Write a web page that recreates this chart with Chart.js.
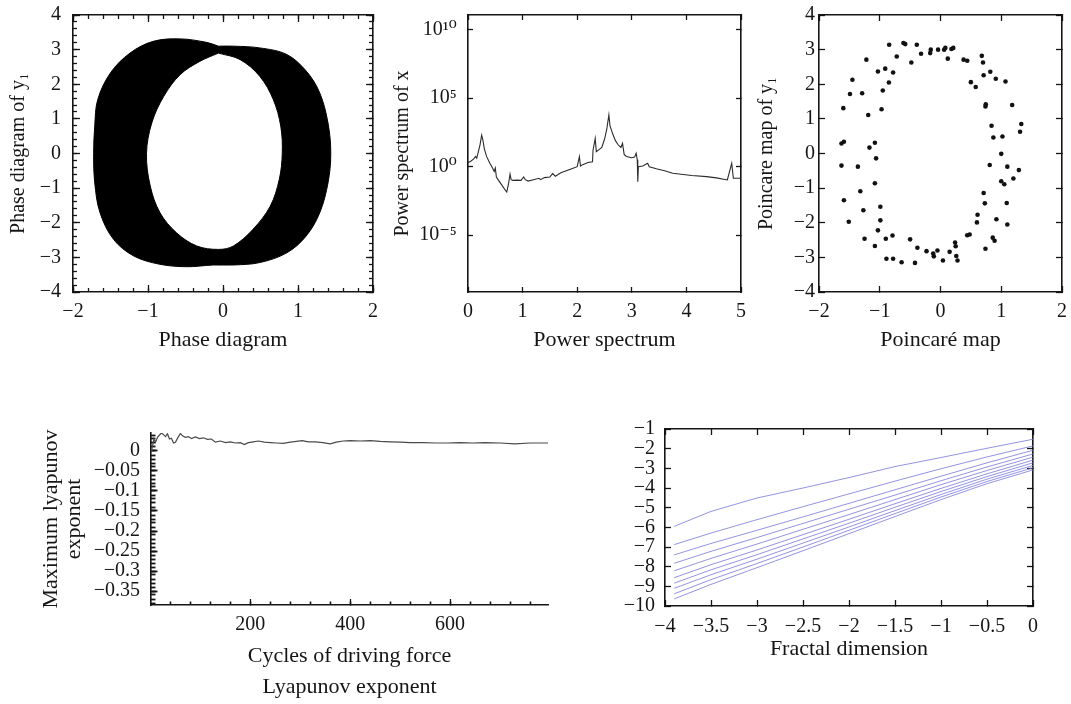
<!DOCTYPE html>
<html>
<head>
<meta charset="utf-8">
<title>Dynamics panels</title>
<script src="https://cdn.jsdelivr.net/npm/chart.js@4.4.1/dist/chart.umd.min.js"></script>
<style>
  html, body { margin: 0; padding: 0; background: #fff; }
  #page { position: relative; width: 1071px; height: 704px; overflow: hidden; background: #fff; }
  canvas { position: absolute; }
</style>
</head>
<body>
<div id="page">
  <canvas id="phase" width="390" height="360" style="left:0;top:0"></canvas>
  <canvas id="power" width="360" height="360" style="left:390px;top:0"></canvas>
  <canvas id="poincare" width="321" height="360" style="left:750px;top:0"></canvas>
  <canvas id="lyap" width="560" height="294" style="left:0;top:410px"></canvas>
  <canvas id="fractal" width="511" height="294" style="left:560px;top:410px"></canvas>
</div>
<script>
// ---- phase diagram: outer and inner edge of the orbit band (loops start at the top notch) ----
const phaseOuterX = [-0.06, 0.14, 0.49, 0.85, 1.11, 1.29, 1.40, 1.437, 1.40, 1.29, 1.11, 0.85, 0.49, 0.14, -0.13, -0.48, -0.84, -1.19, -1.46, -1.64, -1.71, -1.725, -1.71, -1.67, -1.50, -1.24, -0.93, -0.57, -0.22, -0.06];
const phaseOuterY = [3.10, 3.10, 3.05, 2.86, 2.38, 1.75, 0.88, 0, -0.85, -1.71, -2.38, -2.87, -3.15, -3.22, -3.22, -3.27, -3.2, -2.96, -2.48, -1.71, -0.85, 0, 0.8, 1.56, 2.33, 2.9, 3.24, 3.31, 3.21, 3.10];
const phaseInnerX = [-0.06, 0.23, 0.49, 0.67, 0.77, 0.79, 0.75, 0.63, 0.40, 0.14, -0.06, -0.35, -0.62, -0.84, -0.97, -1.02, -0.95, -0.79, -0.57, -0.31, -0.06];
const phaseInnerY = [2.90, 2.71, 2.23, 1.56, 0.79, 0, -0.75, -1.52, -2.19, -2.67, -2.77, -2.67, -2.29, -1.71, -0.94, 0, 0.88, 1.65, 2.28, 2.66, 2.90];
const phaseTicks = [-2, -1, 0, 1, 2];
const phaseYTicks = [-4, -3, -2, -1, 0, 1, 2, 3, 4];

// ---- power spectrum: frequency and log10 of power ----
const psFreq = [0, 0.05, 0.1, 0.14, 0.16, 0.19, 0.22, 0.25, 0.27, 0.3, 0.34, 0.4, 0.45, 0.48, 0.5, 0.52, 0.56, 0.62, 0.68, 0.71, 0.74, 0.77, 0.79, 0.82, 0.9, 0.97, 1.02, 1.05, 1.1, 1.2, 1.3, 1.33, 1.4, 1.5, 1.55, 1.6, 1.7, 1.8, 1.9, 2.0, 2.04, 2.06, 2.1, 2.2, 2.28, 2.29, 2.33, 2.35, 2.4, 2.45, 2.5, 2.54, 2.58, 2.6, 2.65, 2.7, 2.75, 2.8, 2.83, 2.86, 2.9, 3.0, 3.05, 3.08, 3.1, 3.11, 3.12, 3.2, 3.29, 3.32, 3.45, 3.6, 3.75, 3.9, 4.1, 4.37, 4.55, 4.75, 4.83, 4.86, 5.0];
const psLogPower = [0.29, 0.4, 0.55, 0.75, 0.62, 1.1, 1.6, 2.3, 2.0, 1.3, 0.75, 0.25, -0.1, -0.35, -0.1, -0.75, -1.0, -1.35, -1.7, -1.85, -1.3, -0.55, -0.95, -1.0, -0.98, -1.0, -0.75, -0.95, -1.05, -0.95, -0.85, -0.95, -0.8, -0.75, -0.5, -0.7, -0.45, -0.3, -0.15, 0.0, 0.73, 0.05, 0.15, 0.3, 0.35, 1.2, 2.07, 1.1, 1.25, 1.4, 2.0, 2.7, 3.78, 3.0, 2.4, 1.9, 1.6, 1.4, 1.7, 0.9, 0.75, 0.65, 0.7, 0.98, 0.5, -1.1, 0.0, 0.05, 0.25, 0.0, -0.15, -0.3, -0.48, -0.55, -0.65, -0.73, -0.82, -0.97, 0.25, -0.85, -0.85];
const psFreqTicks = [0, 1, 2, 3, 4, 5];
const psPowerTicks = [1e-5, 1, 1e5, 1e10];

// ---- Poincare section points ----
const poinX = [-0.845, -0.61, -0.58, -0.39, -0.72, -0.32, -0.16, -0.17, -0.04, 0.06, 0.08, 0.18, 0.21, 0.12, -0.48, -1.22, 0.38, 0.44, 0.68, 0.70, 0.71, -1.03, -0.91, -0.78, -1.45, -0.85, 0.50, 0.58, 0.82, 0.91, 1.07, -1.49, -1.29, -0.95, -1.60, -1.19, -0.97, 0.745, 0.74, 1.18, 1.33, 1.31, 0.84, 0.87, 1.02, 1.0, -1.63, -1.59, -1.08, -1.17, -1.06, -1.63, -1.36, 0.81, 1.10, 1.29, -1.08, 1.0, 1.05, 1.20, -1.32, 0.71, -1.59, -0.99, 0.73, 1.09, -1.27, 0.61, -1.51, -0.99, 0.60, 0.92, 1.10, -1.03, -1.25, -1.08, -0.90, -0.79, -0.50, 0.44, 0.48, 0.86, 0.89, 0.74, 0.24, 0.25, -0.38, -0.23, -0.05, -0.12, -0.11, 0.15, 0.26, 0.28, 0.04, -0.89, -0.78, -0.64, -0.42];
const poinY = [3.14, 3.19, 3.16, 3.14, 2.80, 2.88, 3.0, 2.90, 3.0, 3.0, 3.05, 3.02, 3.05, 2.74, 2.63, 2.71, 2.71, 2.68, 2.82, 2.63, 2.26, 2.37, 2.45, 2.34, 2.13, 2.05, 2.06, 1.92, 2.36, 2.16, 2.08, 1.72, 1.74, 1.82, 1.31, 1.11, 1.28, 1.42, 1.36, 1.40, 0.85, 0.63, 0.80, 0.46, 0.49, -0.01, 0.29, 0.34, 0.31, 0.17, -0.14, -0.35, -0.38, -0.33, -0.38, -0.48, -0.86, -0.80, -0.89, -0.72, -1.09, -1.14, -1.35, -1.54, -1.44, -1.43, -1.64, -1.77, -1.97, -1.93, -1.99, -1.90, -2.05, -2.22, -2.46, -2.67, -2.46, -2.37, -2.48, -2.36, -2.34, -2.43, -2.52, -2.75, -2.57, -2.68, -2.72, -2.82, -2.80, -2.89, -2.97, -2.84, -2.96, -3.09, -3.09, -3.04, -3.04, -3.14, -3.16];

// ---- Lyapunov exponent against driving cycles ----
const lyCycles = [2, 4, 7, 10, 14, 18, 22, 26, 30, 34, 38, 42, 46, 50, 55, 60, 64, 70, 76, 82, 90, 98, 106, 114, 122, 130, 140, 150, 160, 170, 180, 188, 196, 206, 216, 228, 240, 252, 266, 280, 292, 304, 316, 330, 345, 360, 372, 386, 400, 420, 440, 460, 480, 500, 520, 545, 570, 595, 620, 645, 670, 700, 730, 760, 796];
const lyExponent = [0.0, 0.012, 0.03, 0.022, 0.034, 0.04, 0.045, 0.041, 0.036, 0.043, 0.03, 0.032, 0.02, 0.022, 0.034, 0.044, 0.038, 0.034, 0.036, 0.031, 0.035, 0.031, 0.033, 0.029, 0.03, 0.022, 0.025, 0.021, 0.023, 0.02, 0.021, 0.016, 0.021, 0.023, 0.025, 0.022, 0.021, 0.02, 0.019, 0.022, 0.024, 0.026, 0.023, 0.023, 0.021, 0.018, 0.022, 0.025, 0.026, 0.025, 0.026, 0.024, 0.023, 0.022, 0.021, 0.021, 0.02, 0.02, 0.021, 0.02, 0.021, 0.02, 0.018, 0.02, 0.02];
const lyCycleTicks = [200, 400, 600];
const lyExpTicks = [-0.35, -0.3, -0.25, -0.2, -0.15, -0.1, -0.05, 0];

// ---- fractal dimension curves ----
const fdX = [-3.9, -3.5, -3, -2.5, -2, -1.5, -1, -0.5, 0];
const fd1 = [-5.95, -5.19, -4.51, -4.0, -3.47, -2.91, -2.45, -1.98, -1.52];
const fd2 = [-6.88, -6.29, -5.61, -4.95, -4.3, -3.65, -3.02, -2.42, -1.86];
const fd3 = [-7.40, -6.82, -6.15, -5.47, -4.78, -4.09, -3.4, -2.72, -2.08];
const fd4 = [-7.83, -7.22, -6.52, -5.8, -5.08, -4.36, -3.63, -2.93, -2.27];
const fd5 = [-8.21, -7.58, -6.85, -6.1, -5.35, -4.59, -3.83, -3.11, -2.43];
const fd6 = [-8.56, -7.9, -7.15, -6.37, -5.59, -4.8, -4.02, -3.28, -2.58];
const fd7 = [-8.84, -8.16, -7.39, -6.59, -5.79, -4.98, -4.18, -3.42, -2.72];
const fd8 = [-9.10, -8.41, -7.62, -6.8, -5.98, -5.15, -4.33, -3.55, -2.85];
const fd9 = [-9.38, -8.66, -7.84, -7.0, -6.15, -5.3, -4.46, -3.67, -2.97];
const fd10 = [-9.64, -8.9, -8.05, -7.19, -6.32, -5.45, -4.59, -3.78, -3.08];
const fdXTicks = [-4, -3.5, -3, -2.5, -2, -1.5, -1, -0.5, 0];
const fdYTicks = [-10, -9, -8, -7, -6, -5, -4, -3, -2, -1];

const SERIF = "'Liberation Serif', 'DejaVu Serif', serif";
const INK = '#151515';

function steps(from, to, step) {
  const out = [];
  for (let v = from; v <= to + step / 2; v += step) out.push(+v.toFixed(4));
  return out;
}
const withMinus = v => String(v).replace('-', '\u2212');
const SUP = { '0': '\u2070', '1': '\u00b9', '2': '\u00b2', '3': '\u00b3', '4': '\u2074', '5': '\u2075', '6': '\u2076', '7': '\u2077', '8': '\u2078', '9': '\u2079', '-': '\u207b' };
const powerLabel = v => '10' + String(Math.round(Math.log10(v))).split('').map(c => SUP[c]).join('');
const pts = (xs, ys) => xs.map((x, i) => ({ x, y: ys[i] }));

// one axis: explicit ticks, fixed box size, tick marks pointing into the plot
function axis(position, min, max, ticks, o = {}) {
  const horiz = position === 'top' || position === 'bottom';
  const size = o.size || 0;
  return {
    type: o.type || 'linear',
    axis: horiz ? 'x' : 'y',
    position, min, max,
    weight: size ? 1 : 0,
    afterBuildTicks: s => { s.ticks = ticks.map(value => ({ value })); },
    afterFit: s => {
      if (horiz) s.height = size; else s.width = size;
      s.paddingLeft = s.paddingRight = s.paddingTop = s.paddingBottom = 0;
    },
    border: { display: !!o.border, color: INK, width: 1.6 },
    grid: { display: true, drawOnChartArea: false, drawTicks: true, tickLength: -(o.len || 4), tickColor: INK, tickWidth: o.tickWidth || 1.3 },
    ticks: {
      display: !!o.label, autoSkip: false, maxRotation: 0, minRotation: 0,
      padding: o.pad || 0, color: INK,
      font: { family: SERIF, size: 20 },
      callback: o.label || (() => '')
    },
    title: o.title ? Object.assign({ display: true, color: INK }, o.title) : { display: false }
  };
}

function titleOpts(text, size, lineHeight, padding) {
  return { text, font: { family: SERIF, size, lineHeight }, padding };
}

function panel(id, datasets, scales, pad) {
  return new Chart(document.getElementById(id), {
    type: 'scatter',
    data: { datasets },
    options: {
      responsive: false,
      animation: false,
      devicePixelRatio: 1,
      events: [],
      layout: { padding: pad },
      plugins: { legend: { display: false }, tooltip: { enabled: false } },
      scales
    }
  });
}

const lineSet = (data, color, width) => ({
  data, xAxisID: 'x', yAxisID: 'y', showLine: true, fill: false, tension: 0,
  pointRadius: 0, borderColor: color, borderWidth: width
});

// Phase diagram
panel('phase', [
  { data: pts(phaseOuterX, phaseOuterY), xAxisID: 'x', yAxisID: 'y', showLine: true, fill: 'shape', tension: 0.35,
    backgroundColor: '#000', borderColor: '#000', borderWidth: 1, pointRadius: 0, order: 2 },
  { data: pts(phaseInnerX, phaseInnerY), xAxisID: 'x', yAxisID: 'y', showLine: true, fill: 'shape', tension: 0.35,
    backgroundColor: '#fff', borderColor: '#000', borderWidth: 1, pointRadius: 0, order: 1 }
], {
  x: axis('bottom', -2, 2, phaseTicks, { size: 68, len: 7, pad: 14.7, border: true, label: withMinus,
    title: titleOpts('Phase diagram', 22, 1.2, { top: 0, bottom: 6.8 }) }),
  y: axis('left', -4, 4, phaseYTicks, { size: 73, len: 7, pad: 19, border: true, label: withMinus,
    title: titleOpts('Phase diagram of y\u2081', 20, 1.2, { top: 6.3, bottom: 0 }) }),
  xm: axis('bottom', -2, 2, steps(-2, 2, 0.2), { len: 4 }),
  ym: axis('left', -4, 4, steps(-4, 4, 0.2), { len: 4 }),
  x2: axis('top', -2, 2, phaseTicks, { len: 7, border: true }),
  x2m: axis('top', -2, 2, steps(-2, 2, 0.2), { len: 4 }),
  y2: axis('right', -4, 4, phaseYTicks, { len: 7, border: true }),
  y2m: axis('right', -4, 4, steps(-4, 4, 0.2), { len: 4 })
}, { left: 0, top: 15, right: 17, bottom: 0 });

// Power spectrum (log power)
const psMin = Math.pow(10, -9.15), psMax = Math.pow(10, 11.08);
panel('power', [
  lineSet(psFreq.map((f, i) => ({ x: f, y: Math.pow(10, psLogPower[i]) })), '#2b2b2b', 1.1)
], {
  x: axis('bottom', 0, 5, psFreqTicks, { size: 68, len: 5, pad: 12.7, border: true, label: v => String(v),
    title: titleOpts('Power spectrum', 22, 1.2, { top: 0, bottom: 6.8 }) }),
  y: axis('left', psMin, psMax, psPowerTicks, { type: 'logarithmic', size: 78, len: 5, pad: 16.3, border: true, label: powerLabel,
    title: titleOpts('Power spectrum of x', 20, 1.2, { top: 0.7, bottom: 0 }) }),
  x2: axis('top', 0, 5, psFreqTicks, { len: 5, border: true }),
  y2: axis('right', psMin, psMax, psPowerTicks, { type: 'logarithmic', len: 5, border: true })
}, { left: 0, top: 15, right: 9, bottom: 0 });

// Poincare map
panel('poincare', [
  { data: pts(poinX, poinY), xAxisID: 'x', yAxisID: 'y', pointRadius: 2.3, pointStyle: 'circle',
    backgroundColor: '#111', borderColor: '#111', borderWidth: 0 }
], {
  x: axis('bottom', -2, 2, phaseTicks, { size: 68, len: 6, pad: 13.7, border: true, label: withMinus,
    title: titleOpts('Poincaré map', 22, 1.2, { top: 0, bottom: 6.8 }) }),
  y: axis('left', -4, 4, phaseYTicks, { size: 69, len: 6, pad: 10, border: true, label: withMinus,
    title: titleOpts('Poincare map of y\u2081', 20, 1.2, { top: 4.7, bottom: 0 }) }),
  x2: axis('top', -2, 2, phaseTicks, { len: 6, border: true }),
  y2: axis('right', -4, 4, phaseYTicks, { len: 6, border: true })
}, { left: 0, top: 15, right: 9, bottom: 0 });

// Maximum Lyapunov exponent
panel('lyap', [
  lineSet(pts(lyCycles, lyExponent), '#4a4a4a', 1.2)
], {
  x: axis('bottom', 1, 796, lyCycleTicks, { size: 99, len: 6, pad: 14.0, border: true, label: v => String(v),
    title: titleOpts(['Cycles of driving force', 'Lyapunov exponent'], 22, 1.41, { top: 0, bottom: 0.8 }) }),
  y: axis('left', -0.385, 0.045, lyExpTicks, { size: 151, len: 6.5, pad: 17.5, border: true, tickWidth: 1.8,
    label: v => (v === 0 ? '0' : withMinus(v)),
    title: titleOpts(['Maximum lyapunov', 'exponent'], 22, 1.02, { top: 40.4, bottom: 0 }) }),
  xm: axis('bottom', 1, 796, steps(40, 760, 40), { len: 3.5, tickWidth: 1.6 }),
  ym: axis('left', -0.385, 0.045, steps(-0.38, 0.04, 0.01), { len: 4.5, tickWidth: 1.8 })
}, { left: 0, top: 23, right: 12, bottom: 0 });

// Fractal dimension curves
const fdColor = 'rgba(120,120,218,0.8)';
panel('fractal', [fd1, fd2, fd3, fd4, fd5, fd6, fd7, fd8, fd9, fd10].map(ys => lineSet(pts(fdX, ys), fdColor, 1)), {
  x: axis('bottom', -4, 0, fdXTicks, { size: 98, len: 6, pad: 14.7, border: true, label: withMinus,
    title: titleOpts('Fractal dimension', 22, 1.2, { top: 0, bottom: 41.5 }) }),
  y: axis('left', -10, -1, fdYTicks, { size: 105, len: 6, pad: 16, border: true, label: withMinus }),
  x2: axis('top', -4, 0, fdXTicks, { len: 6, border: true }),
  y2: axis('right', -10, -1, fdYTicks, { len: 6, border: true })
}, { left: 0, top: 19, right: 38, bottom: 0 });
</script>
</body>
</html>
